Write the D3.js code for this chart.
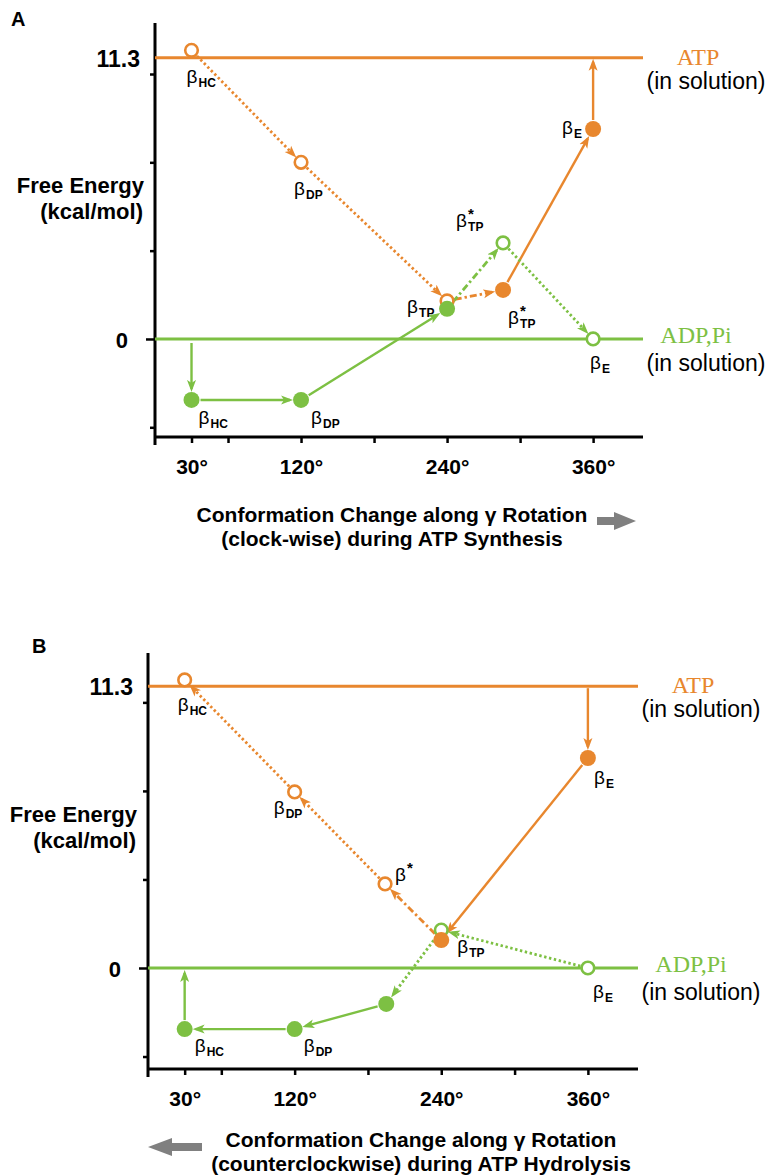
<!DOCTYPE html>
<html>
<head>
<meta charset="utf-8">
<script src="https://cdn.jsdelivr.net/npm/d3@7"></script>
<style>
  body { margin: 0; background: #fff; }
</style>
</head>
<body>
<div id="chart-area"></div>
<script>
// shared axis values
const xTicks = [30, 60, 120, 180, 240, 300, 360];
const xTickLabels = ['30°', '', '120°', '', '240°', '', '360°'];
const yTicks = [-3.55, 0, 3.55, 7.1, 10.65];
const atpLevel = 11.3;
const adpLevel = 0;

// panel A: ATP synthesis (clock-wise)
const synthOrangeDeg = [30, 120, 240, 286, 360];
const synthOrangeEnergy = [11.6, 7.1, 1.53, 1.97, 8.44];
const synthOrangeState = ['HC', 'DP', '', 'TP', 'E'];
const synthOrangeStar = [false, false, false, true, false];
const synthOrangeOpen = [true, true, true, false, false];

const synthGreenDeg = [30, 120, 240, 286, 360];
const synthGreenEnergy = [-2.45, -2.45, 1.21, 3.86, 0];
const synthGreenState = ['HC', 'DP', 'TP', 'TP', 'E'];
const synthGreenStar = [false, false, false, true, false];
const synthGreenOpen = [false, false, false, true, true];

// panel B: ATP hydrolysis (counterclockwise)
const hydroOrangeDeg = [360, 240, 194, 120, 30];
const hydroOrangeEnergy = [8.42, 1.12, 3.37, 7.06, 11.55];
const hydroOrangeState = ['E', 'TP', '', 'DP', 'HC'];
const hydroOrangeStar = [false, false, true, false, false];
const hydroOrangeOpen = [false, false, true, true, true];

const hydroGreenDeg = [360, 240, 195, 120, 30];
const hydroGreenEnergy = [0, 1.52, -1.44, -2.45, -2.45];
const hydroGreenState = ['E', '', '', 'DP', 'HC'];
const hydroGreenStar = [false, false, false, false, false];
const hydroGreenOpen = [true, true, false, false, false];

// ---- styling / layout ----
const ORANGE = '#E8872E';
const GREEN = '#7DC043';
const SANS = '"Liberation Sans", Arial, sans-serif';
const SERIF = '"Liberation Serif", "Times New Roman", serif';
const rOpen = 6.3, rFill = 8;

const svg = d3.select('#chart-area')
    .append('svg')
    .attr('width', 771)
    .attr('height', 1175)
    .attr('font-family', SANS);

const defs = svg.append('defs');
[['o', ORANGE], ['g', GREEN]].forEach(([id, c]) => {
    defs.append('marker')
        .attr('id', 'arrow-' + id)
        .attr('viewBox', '0 -5 12 10')
        .attr('refX', 9)
        .attr('refY', 0)
        .attr('markerWidth', 12)
        .attr('markerHeight', 10)
        .attr('markerUnits', 'userSpaceOnUse')
        .attr('orient', 'auto')
        .append('path')
        .attr('d', 'M0,-4.5L12,0L0,4.5L3,0Z')
        .attr('fill', c);
});

const dash = {solid: null, dot: '2.4,2.6', dashdot: '7,3,2.4,3'};

const panels = [
    {
        letter: 'A', letterX: 11, letterY: 26,
        left: 155, right: 643, top: 23, bottom: 437,
        yDomain: [-3.94, 12.7],
        title: ['Conformation Change along \u03b3 Rotation', '(clock-wise) during ATP Synthesis'],
        titleX: 392, titleY: 522, arrowDir: 1, arrowX: 597, arrowY: 521,
        series: [
            {color: ORANGE, m: 'o', deg: synthOrangeDeg, e: synthOrangeEnergy, state: synthOrangeState,
             star: synthOrangeStar, open: synthOrangeOpen,
             links: ['dot', 'dot', 'dashdot', 'solid'],
             exit: atpLevel,
             labels: [[-5, 33], [-7, 33], null, [5, 34], [-31, 5]]},
            {color: GREEN, m: 'g', deg: synthGreenDeg, e: synthGreenEnergy, state: synthGreenState,
             star: synthGreenStar, open: synthGreenOpen,
             links: ['solid', 'solid', 'dashdot', 'dot'],
             entry: adpLevel,
             labels: [[7, 24], [10, 24], [-40, 4], [-47, -16], [-3, 30]]}
        ]
    },
    {
        letter: 'B', letterX: 32, letterY: 653,
        left: 148, right: 638, top: 653, bottom: 1069,
        yDomain: [-4.05, 12.63],
        title: ['Conformation Change along \u03b3 Rotation', '(counterclockwise) during ATP Hydrolysis'],
        titleX: 421, titleY: 1147, arrowDir: -1, arrowX: 202, arrowY: 1147,
        series: [
            {color: ORANGE, m: 'o', deg: hydroOrangeDeg, e: hydroOrangeEnergy, state: hydroOrangeState,
             star: hydroOrangeStar, open: hydroOrangeOpen,
             links: ['solid', 'dashdot', 'dot', 'dot'],
             entry: atpLevel,
             labels: [[6, 26], [16, 13], [10, -3], [-21, 22], [-7, 31]]},
            {color: GREEN, m: 'g', deg: hydroGreenDeg, e: hydroGreenEnergy, state: hydroGreenState,
             star: hydroGreenStar, open: hydroGreenOpen,
             links: ['dot', 'dot', 'solid', 'solid'],
             exit: adpLevel,
             labels: [[5, 30], null, null, [9, 23], [10, 23]]}
        ]
    }
];

function segment(g, p, q, r0, r1, color, m, style) {
    const dx = q[0] - p[0], dy = q[1] - p[1];
    const len = Math.hypot(dx, dy);
    const ux = dx / len, uy = dy / len;
    g.append('line')
        .attr('x1', p[0] + ux * r0).attr('y1', p[1] + uy * r0)
        .attr('x2', q[0] - ux * r1).attr('y2', q[1] - uy * r1)
        .attr('stroke', color)
        .attr('stroke-width', style === 'solid' ? 2.4 : 2.8)
        .attr('stroke-dasharray', dash[style])
        .attr('marker-end', `url(#arrow-${m})`);
}

panels.forEach((P) => {
    const x = d3.scaleLinear().domain([0, 401]).range([P.left, P.right]);
    const y = d3.scaleLinear().domain(P.yDomain).range([P.bottom, P.top]);
    const g = svg.append('g');

    g.append('text')
        .attr('x', P.letterX).attr('y', P.letterY)
        .attr('font-size', '20px').attr('font-weight', 'bold')
        .text(P.letter);

    // axes
    const xAxis = d3.axisBottom(x)
        .tickValues(xTicks)
        .tickSize(6)
        .tickPadding(16)
        .tickFormat((d, i) => xTickLabels[i]);
    const xg = g.append('g')
        .attr('transform', `translate(0, ${P.bottom})`)
        .call(xAxis);
    xg.select('.domain').remove();
    xg.selectAll('.tick line').attr('stroke-width', 2.5);
    xg.selectAll('.tick text')
        .attr('font-size', '21px').attr('font-weight', 'bold')
        .attr('font-family', SANS);

    const yAxis = d3.axisLeft(y).tickValues(yTicks).tickSize(5).tickFormat('');
    const yg = g.append('g')
        .attr('transform', `translate(${P.left}, 0)`)
        .call(yAxis);
    yg.select('.domain').remove();
    yg.selectAll('.tick line')
        .attr('stroke-width', 2.5)
        .attr('x2', (d) => d === 0 ? -9 : -5);

    g.append('line')
        .attr('x1', P.left).attr('x2', P.right)
        .attr('y1', P.bottom).attr('y2', P.bottom)
        .attr('stroke', '#000').attr('stroke-width', 3);
    g.append('line')
        .attr('x1', P.left).attr('x2', P.left)
        .attr('y1', P.top).attr('y2', P.bottom + 8)
        .attr('stroke', '#000').attr('stroke-width', 3);

    g.append('text')
        .attr('x', P.left - 15).attr('y', y(atpLevel) + 9)
        .attr('text-anchor', 'end')
        .attr('font-size', '23px').attr('font-weight', 'bold')
        .text('11.3');
    g.append('text')
        .attr('x', P.left - 27).attr('y', y(adpLevel) + 9)
        .attr('text-anchor', 'end')
        .attr('font-size', '22px').attr('font-weight', 'bold')
        .text('0');

    const yLab = g.append('text')
        .attr('text-anchor', 'end')
        .attr('font-size', '22px').attr('font-weight', 'bold');
    yLab.append('tspan').attr('x', P.left - 11).attr('y', y(5.85)).text('Free Energy');
    yLab.append('tspan').attr('x', P.left - 12).attr('dy', 26).text('(kcal/mol)');

    // solution levels
    g.append('line')
        .attr('x1', P.left).attr('x2', P.right)
        .attr('y1', y(atpLevel)).attr('y2', y(atpLevel))
        .attr('stroke', ORANGE).attr('stroke-width', 3);
    g.append('line')
        .attr('x1', P.left).attr('x2', P.right)
        .attr('y1', y(adpLevel)).attr('y2', y(adpLevel))
        .attr('stroke', GREEN).attr('stroke-width', 3);

    g.append('text')
        .attr('x', P.right + 55).attr('y', y(atpLevel) + 7)
        .attr('text-anchor', 'middle')
        .attr('font-family', SERIF)
        .attr('font-size', '24px').attr('fill', ORANGE)
        .text('ATP');
    g.append('text')
        .attr('x', P.right + 63).attr('y', y(atpLevel) + 31)
        .attr('text-anchor', 'middle')
        .attr('font-size', '23px')
        .text('(in solution)');
    g.append('text')
        .attr('x', P.right + 53).attr('y', y(adpLevel) + 4)
        .attr('text-anchor', 'middle')
        .attr('font-family', SERIF)
        .attr('font-size', '24px').attr('fill', GREEN)
        .text('ADP,Pi');
    g.append('text')
        .attr('x', P.right + 63).attr('y', y(adpLevel) + 32)
        .attr('text-anchor', 'middle')
        .attr('font-size', '23px')
        .text('(in solution)');

    // paths between states
    const linkG = g.append('g');
    P.series.forEach((s) => {
        const pts = s.deg.map((d, i) => [x(d), y(s.e[i])]);
        const rad = s.open.map((o) => o ? rOpen + 1.5 : rFill + 1);
        if (s.entry !== undefined) {
            const p = pts[0];
            const from = [p[0], y(s.entry) + (s.entry === adpLevel ? 4 : 2)];
            segment(linkG, from, p, 0, rad[0] + 2, s.color, s.m, 'solid');
        }
        for (let i = 0; i < pts.length - 1; i++) {
            segment(linkG, pts[i], pts[i + 1], rad[i], rad[i + 1] + 2, s.color, s.m, s.links[i]);
        }
        if (s.exit !== undefined) {
            const p = pts[pts.length - 1];
            const to = [p[0], y(s.exit) + (s.exit === adpLevel ? 5 : 4)];
            segment(linkG, p, to, rad[pts.length - 1], 0, s.color, s.m, 'solid');
        }
        s.pts = pts;
    });

    // open circles behind, filled circles in front
    [true, false].forEach((openPass) => {
        P.series.forEach((s) => {
            s.pts.forEach((p, i) => {
                if (s.open[i] !== openPass) return;
                g.append('circle')
                    .attr('cx', p[0]).attr('cy', p[1])
                    .attr('r', openPass ? rOpen : rFill)
                    .attr('fill', openPass ? '#fff' : s.color)
                    .attr('stroke', s.color)
                    .attr('stroke-width', openPass ? 2.6 : 0);
            });
        });
    });

    // beta labels
    P.series.forEach((s) => {
        s.pts.forEach((p, i) => {
            const off = s.labels[i];
            if (!off) return;
            const bx = p[0] + off[0], by = p[1] + off[1];
            g.append('text')
                .attr('x', bx).attr('y', by)
                .attr('font-size', '19px')
                .text('\u03b2');
            if (s.star[i]) {
                g.append('text')
                    .attr('x', bx + 12).attr('y', by - 8)
                    .attr('font-size', '15px').attr('font-weight', 'bold')
                    .text('*');
            }
            if (s.state[i]) {
                g.append('text')
                    .attr('x', bx + 12).attr('y', by + 4)
                    .attr('font-size', '12px').attr('font-weight', 'bold')
                    .text(s.state[i]);
            }
        });
    });

    // x title and direction arrow
    const t = g.append('text')
        .attr('text-anchor', 'middle')
        .attr('font-size', '21px').attr('font-weight', 'bold');
    t.append('tspan').attr('x', P.titleX).attr('y', P.titleY).text(P.title[0]);
    t.append('tspan').attr('x', P.titleX).attr('dy', 24).text(P.title[1]);

    const a = P.arrowDir, ax = P.arrowX, ay = P.arrowY;
    const shaft = a > 0 ? 17 : 30, head = a > 0 ? 22 : 24;
    g.append('path')
        .attr('d', `M${ax},${ay - 4} L${ax + a * shaft},${ay - 4} L${ax + a * shaft},${ay - 9}
                    L${ax + a * (shaft + head)},${ay} L${ax + a * shaft},${ay + 9}
                    L${ax + a * shaft},${ay + 4} L${ax},${ay + 4} Z`)
        .attr('fill', '#808080');
});
</script>
</body>
</html>
